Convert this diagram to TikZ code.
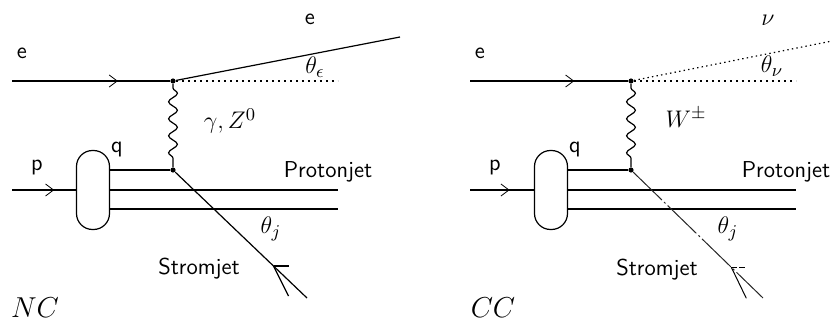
\documentclass[tikz,border=0pt]{standalone}
\usepackage{amsmath,amssymb}
\usepackage{tikz}
\usetikzlibrary{
    arrows.meta,
    calc,
    decorations.pathmorphing,
    decorations.markings,
}

\begin{document}
\begin{tikzpicture}[
    x=0.5pt, y=-0.5pt,
    lbl/.style  = {font=\sffamily\fontsize{11.5}{14}\selectfont, inner sep=1pt},
    mlbl/.style = {font=\fontsize{13}{15}\selectfont, inner sep=1pt},
    plbl/.style = {font=\Large, inner sep=1pt},
    blob/.style = {draw, line width=0.6pt, rounded corners=8pt,
                   minimum width=16.5pt, minimum height=39.5pt, inner sep=0pt},
    vtx/.style  = {circle, fill, inner sep=0pt, minimum size=2.6pt},
    fline/.style = {line width=0.6pt},
    nuline/.style = {line width=0.6pt, dash pattern=on 0.7pt off 1.6pt},
    refline/.style = {line width=0.7pt, dash pattern=on 0.8pt off 2.2pt},
    cjline/.style = {line width=0.5pt, black!85,
                     dash pattern=on 20pt off 1.5pt on 1pt off 1.5pt},
    boson/.style = {line width=0.6pt, decorate,
                    decoration={snake, amplitude=2.2pt, segment length=8.5pt,
                                pre length=2pt, post length=1pt}},
    midarr/.style = {postaction={decorate},
                     decoration={markings, mark=at position #1 with
                       {\arrow{Straight Barb[length=4pt, width=6pt, line width=0.4pt]}}}},
]
\useasboundingbox (0,0) rectangle (832,321);

%% ── NC: neutral current ─────────────────────────────────────────────────────
\coordinate (eNCin)  at ( 12, 81);
\coordinate (eNCout) at (400, 37);
\coordinate (dNC)    at (338, 81);
\coordinate (pNCin)  at ( 12,190);
\coordinate (pjNCa)  at (338,190);
\coordinate (pjNCb)  at (338,209);
\coordinate (sjNC)   at (307,298);

\node[vtx]  (vNC) at (173, 81) {};
\node[vtx]  (qNC) at (173,170) {};
\node[blob] (bNC) at ( 93,190) {};

\draw[fline, midarr=0.67] (eNCin) -- (vNC);
\draw[fline]   (vNC) -- (eNCout);
\draw[refline] (vNC) -- (dNC);
\draw[boson]   (vNC) -- (qNC);

\draw[fline, midarr=0.66] (pNCin) -- (bNC);
\draw[fline] (bNC.east |- qNC)   -- (qNC);
\draw[fline] (bNC.east |- pjNCa) -- (pjNCa);
\draw[fline] (bNC.east |- pjNCb) -- (pjNCb);

%% current jet with its cone
\draw[fline] (qNC) -- (sjNC);
\coordinate (cNC)  at ($(qNC)!0.75!(sjNC)$);
\coordinate (cNCa) at ($(cNC)+(15,0)$);
\coordinate (cNCb) at ($(cNC)+(15,30)$);
\draw[fline] (cNC) -- (cNCa);
\draw[fline] (cNC) -- (cNCb);

%% labels
\node[lbl]  (eNCl)  at ( 22, 53) {e};
\node[lbl]  (eNCl2) at (310, 19) {e};
\node[mlbl] (thNC)  at (315, 67) {$\theta_\epsilon$};
\node[mlbl] (gzNC)  at (230,121) {$\gamma, Z^0$};
\node[lbl]  (pNCl)  at ( 37,168) {p};
\node[lbl]  (qNCl)  at (117,150) {q};
\node[lbl]  (pjNCl) at (328,172) {Protonjet};
\node[mlbl] (tjNC)  at (271,229) {$\theta_j$};
\node[lbl]  (sjNCl) at (199,269) {Stromjet};
\node[plbl] (NCl)   at ( 35,308) {$NC$};

%% ── CC: charged current ─────────────────────────────────────────────────────
\coordinate (eCCin)  at (470, 81);
\coordinate (nuCC)   at (832, 41);
\coordinate (dCC)    at (796, 81);
\coordinate (pCCin)  at (470,190);
\coordinate (pjCCa)  at (796,190);
\coordinate (pjCCb)  at (796,209);
\coordinate (sjCC)   at (763,298);

\node[vtx]  (vCC) at (631, 81) {};
\node[vtx]  (qCC) at (631,170) {};
\node[blob] (bCC) at (551,190) {};

\draw[fline, midarr=0.66] (eCCin) -- (vCC);
\draw[nuline]  (vCC) -- (nuCC);
\draw[refline] (vCC) -- (dCC);
\draw[boson]   (vCC) -- (qCC);

\draw[fline, midarr=0.62] (pCCin) -- (bCC);
\draw[fline] (bCC.east |- qCC)   -- (qCC);
\draw[fline] (bCC.east |- pjCCa) -- (pjCCa);
\draw[fline] (bCC.east |- pjCCb) -- (pjCCb);

%% current jet with its cone
\draw[cjline] (qCC) -- (sjCC);
\coordinate (cCC)  at ($(qCC)!0.76!(sjCC)$);
\coordinate (cCCa) at ($(cCC)+(14,0)$);
\coordinate (cCCb) at ($(cCC)+(15,31)$);
\draw[line width=0.45pt, dash pattern=on 3pt off 1pt] (cCC) -- (cCCa);
\draw[line width=0.5pt] (cCC) -- (cCCb);

%% labels
\node[lbl]  (eCCl)  at (480, 53) {e};
\node[mlbl] (nuCCl) at (768, 20) {$\nu$};
\node[mlbl] (thCC)  at (772, 66) {$\theta_\nu$};
\node[mlbl] (wCC)   at (686,118) {$W^\pm$};
\node[lbl]  (pCCl)  at (495,168) {p};
\node[lbl]  (qCCl)  at (575,150) {q};
\node[lbl]  (pjCCl) at (786,172) {Protonjet};
\node[mlbl] (tjCC)  at (728,229) {$\theta_j$};
\node[lbl]  (sjCCl) at (657,270) {Stromjet};
\node[plbl] (CCl)   at (493,308) {$CC$};

\end{tikzpicture}
\end{document}
